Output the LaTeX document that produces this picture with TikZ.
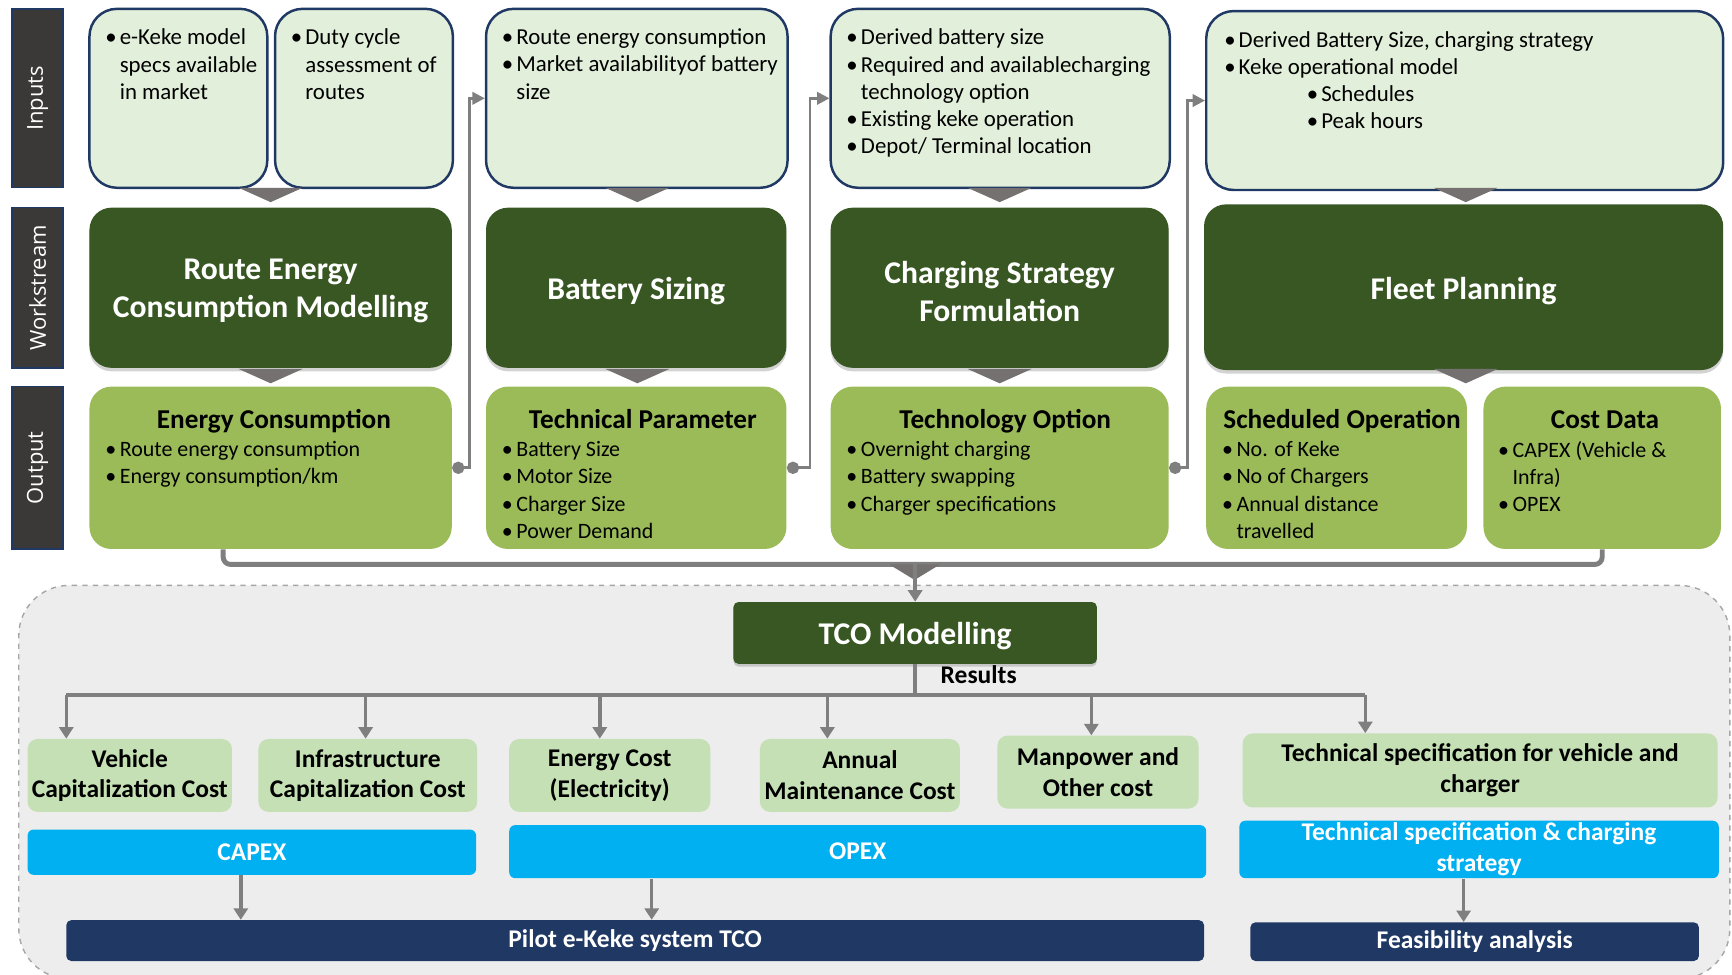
\documentclass[tikz,border=0pt]{standalone}
\usepackage{fontspec}
\setmainfont{Carlito}
\newfontfamily\sidefont{Open Sans}
\usetikzlibrary{arrows.meta,fit,shadows}

\definecolor{inpgreen}{HTML}{E2EFDA}
\definecolor{wsgreen}{HTML}{385723}
\definecolor{outgreen}{HTML}{9BBB59}
\definecolor{resgreen}{HTML}{C5E0B4}
\definecolor{barblue}{HTML}{00B0F0}
\definecolor{navy}{HTML}{203864}
\definecolor{sidegray}{HTML}{3B3838}
\definecolor{linegray}{HTML}{7F7F7F}
\definecolor{trigray}{HTML}{767171}
\definecolor{bggray}{HTML}{EDEDED}

\newcommand{\bu}{\makebox[2.9mm][l]{\textbullet}}
\newcommand{\nb}{\hspace*{2.9mm}}

\begin{document}
\begin{tikzpicture}[x=0.2209mm,y=-0.2209mm,
  sidebar/.style={fill=sidegray,draw=navy,line width=.8pt,inner sep=0},
  sidetxt/.style={rotate=90,text=white,font=\sidefont\fontsize{12.5}{15}\selectfont},
  inbox/.style={draw=navy,line width=1.4pt,fill=inpgreen,rounded corners=5.5mm,inner sep=0},
  intxt/.style={anchor=north west,align=left,inner sep=0,font=\fontsize{13}{15.4}\selectfont},
  wsbox/.style={fill=wsgreen,rounded corners=4.4mm,inner sep=0,
    drop shadow={shadow xshift=0pt,shadow yshift=-2pt,opacity=.35}},
  wstxt/.style={text=white,align=center,inner sep=0,yshift=-2pt,font=\fontsize{18}{21.6}\selectfont\bfseries},
  outbox/.style={fill=outgreen,rounded corners=4.4mm,inner sep=0},
  outtitle/.style={anchor=base,inner sep=0,font=\fontsize{15.5}{18}\selectfont\bfseries},
  outtxt/.style={anchor=north west,align=left,inner sep=0,font=\fontsize{12.5}{15.6}\selectfont},
  link/.style={linegray,line width=1.5pt,{Circle[length=7pt]}-{Triangle[length=7pt,width=7pt]}},
  bus/.style={linegray,line width=2.8pt,rounded corners=1.5mm},
  region/.style={draw=gray!70,dashed,line width=.8pt,fill=bggray,rounded corners=1cm,inner sep=0},
  tcobox/.style={fill=wsgreen,rounded corners=1mm,inner sep=0,
    drop shadow={shadow xshift=0pt,shadow yshift=-1.5pt,opacity=.35}},
  costbox/.style={fill=resgreen,rounded corners=2mm,inner sep=0},
  costtxt/.style={align=center,inner sep=0,font=\fontsize{14.5}{17.4}\selectfont\bfseries},
  bluebar/.style={fill=barblue,rounded corners=1.2mm,inner sep=0},
  navybar/.style={fill=navy,rounded corners=1mm,inner sep=0},
  bartxt/.style={align=center,inner sep=0,text=white,font=\fontsize{14.5}{17.4}\selectfont\bfseries},
  line/.style={linegray,line width=2pt},
  arr/.style={linegray,line width=2pt,-{Triangle[length=6.5pt,width=8pt]}}]

\useasboundingbox (0,0) rectangle (1568,882);

\node[sidebar,fit={(11,8) (57,170)}] (sInp) {};
\node[sidebar,fit={(11,188) (57,333)}] (sWs) {};
\node[sidebar,fit={(11,350) (57,497)}] (sOut) {};
\node[sidetxt] (sInpt) at (sInp.center) {Inputs};
\node[sidetxt] (sWst) at (sWs.center) {Workstream};
\node[sidetxt] (sOutt) at (sOut.center) {Output};

\node[inbox,fit={(81,8) (242,170)}] (in1) {};
\node[inbox,fit={(249,8) (410,170)}] (in2) {};
\node[inbox,fit={(440,8) (713,170)}] (in3) {};
\node[inbox,fit={(752,8) (1059,170)}] (in4) {};
\node[inbox,fit={(1092,10) (1560,172)}] (in5) {};

\node[intxt] (in1t) at (95,26) {\bu e-Keke model\\ \nb specs available\\ \nb in market};
\node[intxt] (in2t) at (263,26) {\bu Duty cycle\\ \nb assessment of\\ \nb routes};
\node[intxt] (in3t) at (454,26) {\bu Route energy consumption\\ \bu Market availabilityof battery\\ \nb size};
\node[intxt] (in4t) at (766,26) {\bu Derived battery size\\ \bu Required and availablecharging\\ \nb technology option\\ \bu Existing keke operation\\ \bu Depot/ Terminal location};
\node[intxt] (in5t) at (1108,28) {\bu Derived Battery Size, charging strategy\\ \bu Keke operational model\\
  \hspace*{16.5mm}\bu Schedules\\ \hspace*{16.5mm}\bu Peak hours};

\node[wsbox,fit={(81,188) (409,333)}] (ws1) {};
\node[wsbox,fit={(440,188) (712,333)}] (ws2) {};
\node[wsbox,fit={(752,188) (1058,333)}] (ws3) {};
\node[wsbox,fit={(1090,185) (1560,335)}] (ws4) {};
\node[wstxt] (ws1t) at (ws1.center) {Route Energy\\Consumption Modelling};
\node[wstxt] (ws2t) at (ws2.center) {Battery Sizing};
\node[wstxt] (ws3t) at (ws3.center) {Charging Strategy\\Formulation};
\node[wstxt] (ws4t) at (ws4.center) {Fleet Planning};

\node[outbox,fit={(81,350) (409,497)}] (out1) {};
\node[outbox,fit={(440,350) (712,497)}] (out2) {};
\node[outbox,fit={(752,350) (1058,497)}] (out3) {};
\node[outbox,fit={(1092,350) (1328,497)}] (out4) {};
\node[outbox,fit={(1343,350) (1558,497)}] (out5) {};

\foreach \cx in {245,577,905,1327} {
  \fill[trigray] (\cx-29,170) -- (\cx+29,170) -- (\cx,183) -- cycle;
  \fill[trigray] (\cx-29,334) -- (\cx+29,334) -- (\cx,347) -- cycle;
}

\node[outtitle] (out1h) at (248,388) {Energy Consumption};
\node[outtitle] (out2h) at (582,388) {Technical Parameter};
\node[outtitle] (out3h) at (910,388) {Technology Option};
\node[outtitle] (out4h) at (1215,388) {Scheduled Operation};
\node[outtitle] (out5h) at (1453,388) {Cost Data};

\node[outtxt] (out1t) at (95,399) {\bu Route energy consumption\\ \bu Energy consumption/km};
\node[outtxt] (out2t) at (454,399) {\bu Battery Size\\ \bu Motor Size\\ \bu Charger Size\\ \bu Power Demand};
\node[outtxt] (out3t) at (766,399) {\bu Overnight charging\\ \bu Battery swapping\\ \bu Charger specifications};
\node[outtxt] (out4t) at (1106,399) {\bu No. of Keke\\ \bu No of Chargers\\ \bu Annual distance\\ \nb travelled};
\node[outtxt] (out5t) at (1356,399) {\bu CAPEX (Vehicle \&\\ \nb Infra)\\ \bu OPEX};

\draw[link] (out1.east) -- ++(16,0) |- (in3.west);
\draw[link] (out2.east) -- ++(21,0) |- (in4.west);
\draw[link] (out3.east) -- ++(17,0) |- (in5.west);

\node[region,fit={(17,530) (1566,886)}] (tcoarea) {};

\coordinate (busL) at (202,511);
\coordinate (busM) at (828,511);
\draw[bus] (busL |- out1.south) -- (busL) -- (busL -| out5.south) -- (out5.south);

\node[tcobox,fit={(664,545) (993,601)}] (tco) {};
\node[wstxt] (tcot) at (tco.center) {TCO Modelling};
\node[costtxt] (res) at (886,611) {Results};

\fill[trigray] (805,511) -- (851,511) -- (828,525) -- cycle;
\draw[arr] (tco.north |- busM) -- (tco.north);

\node[costbox,fit={(25,669) (210,735)}] (vc) {};
\node[costbox,fit={(234,669) (432,735)}] (ic) {};
\node[costbox,fit={(461,669) (643,735)}] (ec) {};
\node[costbox,fit={(688,669) (869,735)}] (am) {};
\node[costbox,fit={(903,666) (1085,732)}] (mp) {};
\node[costbox,fit={(1125,664) (1555,731)}] (ts) {};
\node[costtxt] (vct) at (vc.center) {Vehicle\\Capitalization Cost};
\node[costtxt] (ict) at (ic.center) {Infrastructure\\Capitalization Cost};
\node[costtxt] (ect) at (ec.center) {Energy Cost\\(Electricity)};
\node[costtxt] (amt) at (am.center) {Annual\\Maintenance Cost};
\node[costtxt] (mpt) at (mp.center) {Manpower and\\Other cost};
\node[costtxt] (tst) at (ts.center) {Technical specification for vehicle and\\charger};

\coordinate (a1) at (60,629);
\coordinate (a2) at (331,629);
\coordinate (a3) at (543,629);
\coordinate (a4) at (749,629);
\coordinate (a5) at (988,629);
\coordinate (a6) at (1236,629);
\draw[line] (tco.south) -- (tco.south |- a1);
\draw[line] (a1) -- (a6);
\foreach \a/\b in {a1/vc,a2/ic,a3/ec,a4/am,a5/mp,a6/ts}
  \draw[arr] (\a) -- (\a |- \b.north);

\node[bluebar,fit={(25,751) (431,792)}] (capex) {};
\node[bluebar,fit={(461,747) (1092,795)}] (opex) {};
\node[bluebar,fit={(1122,743) (1556,795)}] (tsc) {};
\node[bartxt] (capext) at (capex.center) {CAPEX};
\node[bartxt] (opext) at (opex.center) {OPEX};
\node[bartxt] (tsct) at (tsc.center) {Technical specification \& charging\\strategy};

\node[navybar,fit={(60,833) (1090,870)}] (pilot) {};
\node[navybar,fit={(1132,835) (1538,870)}] (feas) {};
\node[bartxt] (pilott) at (pilot.center) {Pilot e-Keke system TCO};
\node[bartxt] (feast) at (feas.center) {Feasibility analysis};

\coordinate (c1) at (218,800);
\coordinate (c2) at (590,800);
\coordinate (c3) at (1325,800);
\draw[arr] (c1 |- capex.south) -- (c1 |- pilot.north);
\draw[arr] (c2 |- opex.south) -- (c2 |- pilot.north);
\draw[arr] (c3 |- tsc.south) -- (c3 |- feas.north);

\end{tikzpicture}
\end{document}
